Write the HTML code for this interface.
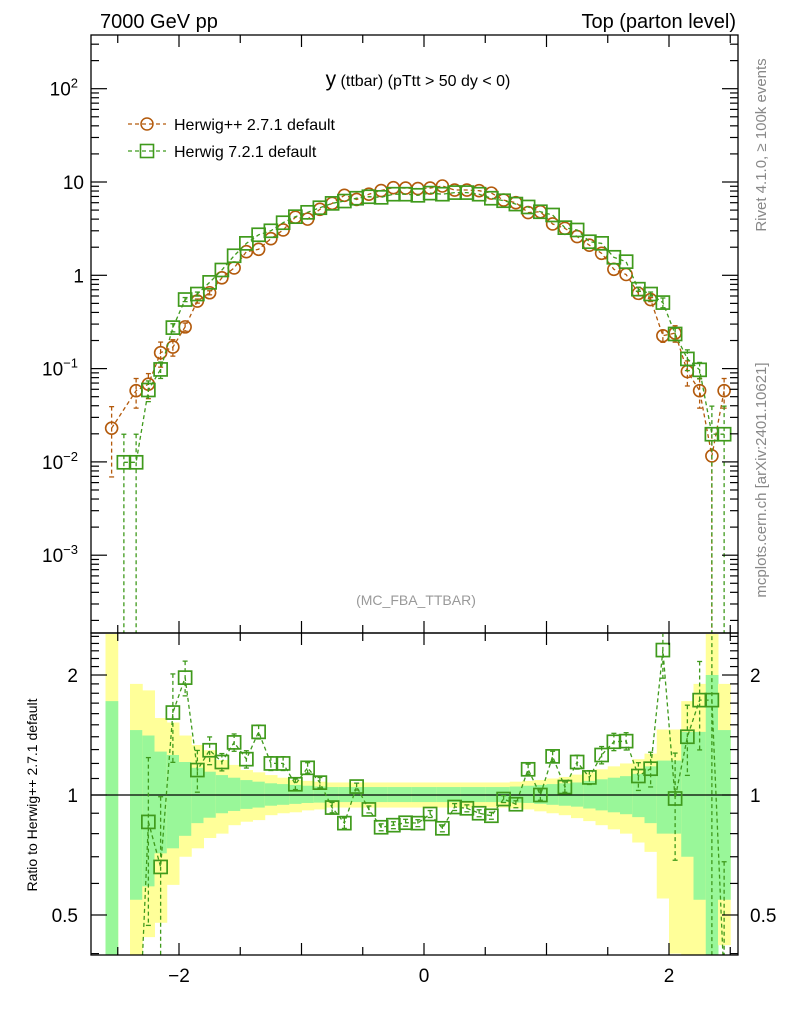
<!DOCTYPE html>
<html><head><meta charset="utf-8"><style>
html,body{margin:0;padding:0;background:#fff;overflow:hidden;width:786px;height:1024px;}
svg{display:block;font-family:"Liberation Sans",sans-serif;}
</style></head><body>
<svg id="chart" width="786" height="1024" viewBox="0 0 786 1024">
<defs>
<clipPath id="clipMain"><rect x="91" y="35" width="647" height="598"/></clipPath>
<clipPath id="clipRatio"><rect x="91" y="634" width="647" height="321"/></clipPath>
</defs>
<g id="bands" clip-path="url(#clipRatio)"></g>
<g id="ratioLines" clip-path="url(#clipRatio)"></g>
<g id="mainLines" clip-path="url(#clipMain)"></g>
<g id="axes"></g>
<text x="100" y="28" font-size="20">7000 GeV pp</text>
<text x="736" y="28" font-size="20" text-anchor="end">Top (parton level)</text>
<text x="418" y="86" text-anchor="middle" font-size="16"><tspan font-size="21">y</tspan> (ttbar) (pTtt &gt; 50 dy &lt; 0)</text>
<g>
<g>
<line x1="128" y1="124" x2="166" y2="124" stroke="#b35a0c" stroke-width="1.3" stroke-dasharray="4,3"/>
<circle cx="147" cy="124" r="6" fill="none" stroke="#b35a0c" stroke-width="1.5"/>
<text x="174" y="130" font-size="16">Herwig++ 2.7.1 default</text></g>
<g>
<line x1="128" y1="151" x2="166" y2="151" stroke="#3f9a1c" stroke-width="1.3" stroke-dasharray="4,3"/>
<rect x="140.5" y="144.5" width="13" height="13" fill="none" stroke="#3f9a1c" stroke-width="1.6"/>
<text x="174" y="157" font-size="16">Herwig 7.2.1 default</text></g>
</g>
<text x="416" y="605" text-anchor="middle" font-size="14" fill="#999">(MC_FBA_TTBAR)</text>
<text transform="translate(766,145) rotate(-90)" text-anchor="middle" font-size="15" fill="#888">Rivet 4.1.0, ≥ 100k events</text>
<text transform="translate(766,480) rotate(-90)" text-anchor="middle" font-size="15" fill="#888">mcplots.cern.ch [arXiv:2401.10621]</text>
<text transform="translate(37,795) rotate(-90)" text-anchor="middle" font-size="14">Ratio to Herwig++ 2.7.1 default</text>
</svg>
<script>
const binCenters = [-2.55,-2.45,-2.35,-2.25,-2.15,-2.05,-1.95,-1.85,-1.75,-1.65,-1.55,-1.45,-1.35,-1.25,-1.15,-1.05,-0.95,-0.85,-0.75,-0.65,-0.55,-0.45,-0.35,-0.25,-0.15,-0.05,0.05,0.15,0.25,0.35,0.45,0.55,0.65,0.75,0.85,0.95,1.05,1.15,1.25,1.35,1.45,1.55,1.65,1.75,1.85,1.95,2.05,2.15,2.25,2.35,2.45];
const herwigppValues = [0.023,null,0.058,0.068,0.148,0.17,0.28,0.53,0.65,0.94,1.2,1.79,1.9,2.47,3.06,4.2,4.0,5.1,5.9,7.2,6.5,7.4,8.1,8.7,8.6,8.5,8.6,9.06,8.2,8.2,8.07,7.6,6.4,6.0,4.7,4.8,3.55,3.19,2.6,2.1,1.72,1.16,1.02,0.64,0.55,0.225,0.24,0.093,0.058,0.0116,0.058];
const herwig7Values = [null,0.0099,0.0099,0.059,0.098,0.275,0.55,0.63,0.84,1.14,1.62,2.2,2.72,3.0,3.66,4.25,4.73,5.3,5.9,6.25,6.7,6.95,6.85,7.4,7.4,7.2,7.6,7.4,7.7,7.7,7.4,6.7,6.3,5.8,5.4,4.8,4.43,3.24,3.06,2.29,2.2,1.56,1.4,0.71,0.63,0.51,0.235,0.127,0.097,0.0198,0.0198];
const herwigppRelErr = [0.7,0,0.35,0.3,0.3,0.2,0.1,0.05,0.05,0,0,0,0,0,0,0,0,0,0,0,0,0,0,0,0,0,0,0,0,0,0,0,0,0,0,0,0,0,0,0,0,0,0,0.05,0.05,0.15,0.2,0.3,0.35,1.0,0.35];
const herwig7RelErr = [0,1.0,1.0,0.25,0.2,0.1,0.05,0.05,0,0,0,0,0,0,0,0,0,0,0,0,0,0,0,0,0,0,0,0,0,0,0,0,0,0,0,0,0,0,0,0,0,0,0,0.05,0.05,0.12,0.15,0.25,0.2,1.0,1.0];
const ratioValues = [null,null,0.17,0.856,0.66,1.61,1.97,1.155,1.295,1.21,1.355,1.23,1.44,1.2,1.2,1.064,1.17,1.074,0.93,0.85,1.05,0.92,0.83,0.84,0.852,0.85,0.896,0.825,0.933,0.926,0.9,0.887,0.977,0.948,1.16,1.0,1.25,1.047,1.21,1.107,1.26,1.36,1.365,1.116,1.164,2.31,0.98,1.4,1.73,1.73,0.34];
const ratioRelErr = [0,0,1.0,0.45,0.5,0.25,0.1,0.12,0.08,0.05,0.05,0.05,0.04,0.04,0.04,0.03,0.03,0.03,0.03,0.03,0.02,0.02,0.02,0.02,0.02,0.02,0.02,0.02,0.02,0.02,0.02,0.02,0.02,0.02,0.03,0.03,0.03,0.03,0.04,0.04,0.05,0.05,0.05,0.08,0.1,0.15,0.3,0.2,0.25,1.0,1.0];
const yellowUpper = [3,null,1.9,1.83,1.56,1.52,1.41,1.335,1.295,1.224,1.19,1.155,1.14,1.122,1.105,1.09,1.085,1.08,1.075,1.075,1.075,1.075,1.075,1.075,1.075,1.075,1.075,1.075,1.075,1.075,1.075,1.075,1.075,1.08,1.085,1.09,1.1,1.11,1.125,1.14,1.16,1.18,1.2,1.23,1.27,1.46,1.46,1.72,1.9,3,1.9];
const greenUpper = [1.72,null,1.455,1.41,1.285,1.26,1.21,1.17,1.144,1.122,1.105,1.09,1.08,1.07,1.065,1.06,1.055,1.05,1.047,1.047,1.047,1.047,1.047,1.047,1.047,1.047,1.047,1.047,1.047,1.047,1.047,1.047,1.047,1.05,1.055,1.06,1.065,1.07,1.075,1.085,1.095,1.105,1.115,1.13,1.18,1.22,1.22,1.44,1.44,2.0,1.455];
const greenLower = [0.3,null,0.546,0.59,0.714,0.735,0.79,0.85,0.877,0.9,0.912,0.923,0.93,0.94,0.945,0.95,0.955,0.957,0.96,0.96,0.96,0.96,0.96,0.96,0.96,0.96,0.96,0.96,0.96,0.96,0.96,0.96,0.96,0.957,0.955,0.95,0.945,0.94,0.935,0.925,0.915,0.905,0.895,0.88,0.85,0.8,0.8,0.7,0.546,0.3,0.546];
const yellowLower = [0.3,null,0.35,0.44,0.478,0.595,0.70,0.735,0.78,0.8,0.84,0.857,0.865,0.89,0.9,0.905,0.915,0.92,0.93,0.93,0.93,0.93,0.93,0.93,0.93,0.93,0.93,0.93,0.93,0.93,0.93,0.93,0.93,0.925,0.92,0.91,0.9,0.89,0.875,0.86,0.84,0.82,0.8,0.76,0.72,0.55,0.4,0.35,0.35,0.3,0.42];
const xTickLabels = ["−2","0","2"];
const xTickValues = [-2,0,2];
const binWidth = 0.1;

const NS = "http://www.w3.org/2000/svg";
const BROWN = "#b35a0c", GREEN = "#3f9a1c";
const X = v => 424 + 122.5 * v;
const YM = v => 275.3 - 93.3 * Math.log10(v);
const YR = v => 795 - 398.6 * Math.log10(v);
function el(tag, attrs, parent){ const e=document.createElementNS(NS,tag); for(const k in attrs) e.setAttribute(k,attrs[k]); parent.appendChild(e); return e; }
const bands=document.getElementById('bands'), rl=document.getElementById('ratioLines'), ml=document.getElementById('mainLines'), ax=document.getElementById('axes');

binCenters.forEach((c,i)=>{
  if(yellowUpper[i]==null) return;
  const x0=X(c-binWidth/2), w=122.5*binWidth+0.5;
  const y1=el('rect',{x:x0,y:YR(yellowUpper[i]),width:w,height:YR(yellowLower[i])-YR(yellowUpper[i]),fill:'#ffff99'},bands);
  
  
  const g1=el('rect',{x:x0,y:YR(greenUpper[i]),width:w,height:YR(greenLower[i])-YR(greenUpper[i]),fill:'#99f799'},bands);
  
  
});
el('line',{x1:91,x2:738,y1:YR(1),y2:YR(1),stroke:'#000','stroke-width':1.3},bands);

function series(parent, vals, errs, Y, color, shape, name, yBottom){
  let pts=[];
  vals.forEach((v,i)=>{ if(v!=null) pts.push(X(binCenters[i]).toFixed(1)+','+Y(v).toFixed(1)); });
  const pl=el('polyline',{points:pts.join(' '),fill:'none',stroke:color,'stroke-width':1.3,'stroke-dasharray':'4,3'},parent);
  
  
  vals.forEach((v,i)=>{
    if(v==null) return;
    const cx=X(binCenters[i]), cy=Y(v), e=errs[i];
    if(e>0){
      const lo = e>=1 ? yBottom : Y(v*(1-e)); const hi=Y(v*(1+e));
      el('line',{x1:cx,x2:cx,y1:hi,y2:lo,stroke:color,'stroke-width':1.3,'stroke-dasharray':'4,3'},parent);
      el('line',{x1:cx-2.5,x2:cx+2.5,y1:hi,y2:hi,stroke:color,'stroke-width':1.3},parent);
      el('line',{x1:cx-2.5,x2:cx+2.5,y1:lo,y2:lo,stroke:color,'stroke-width':1.3},parent);
    }
    let m;
    if(shape==='circle') m=el('circle',{cx:cx,cy:cy,r:6,fill:'none',stroke:color,'stroke-width':1.6},parent);
    else m=el('rect',{x:cx-6.5,y:cy-6.5,width:13,height:13,fill:'none',stroke:color,'stroke-width':1.7},parent);
    
    
  });
}
series(ml, herwigppValues, herwigppRelErr, YM, BROWN, 'circle', 'herwigpp', 640);
series(ml, herwig7Values, herwig7RelErr, YM, GREEN, 'square', 'herwig7', 640);
series(rl, ratioValues, ratioRelErr, YR, GREEN, 'square', 'ratio-herwig7', 960);

el('rect',{x:91,y:35,width:647,height:598,fill:'none',stroke:'#000','stroke-width':1.3},ax);
el('rect',{x:91,y:633,width:647,height:322,fill:'none',stroke:'#000','stroke-width':1.3},ax);
for(let v=-2.5; v<=2.5; v+=0.5){
  const x=X(v), major=Math.abs(v-Math.round(v))<1e-6, L=major?12:8;
  [[35,1],[633,-1],[633,1],[955,-1]].forEach(([y,d])=>el('line',{x1:x,x2:x,y1:y,y2:y+d*L,stroke:'#000','stroke-width':1.2},ax));
}
xTickValues.forEach((v,i)=>{ const t=el('text',{x:X(v),y:982,'text-anchor':'middle','font-size':19},ax); t.textContent=xTickLabels[i];
    });
for(let d=-4; d<=2; d++){ for(let m=1;m<10;m++){ const v=m*Math.pow(10,d), y=YM(v); if(y<35||y>633) continue;
  const L=m===1?16:8; el('line',{x1:91,x2:91+L,y1:y,y2:y,stroke:'#000','stroke-width':1.2},ax); el('line',{x1:738,x2:738-L,y1:y,y2:y,stroke:'#000','stroke-width':1.2},ax);} }
const yLabs=[[2,'10','2'],[1,'10',''],[0,'1',''],[-1,'10','−1'],[-2,'10','−2'],[-3,'10','−3']];
yLabs.forEach(([d,b,s])=>{ const t=el('text',{x:s?78:84,y:YM(Math.pow(10,d))+7,'text-anchor':'end','font-size':19},ax);
  t.textContent=b; if(s){ const ts=el('tspan',{dy:-8,'font-size':13},t); ts.textContent=s; }
    });
[0.4,0.5,0.6,0.7,0.8,0.9,1,1.1,1.2,1.3,1.4,1.5,1.6,1.7,1.8,1.9,2,2.1,2.2,2.3,2.4,2.5].forEach(v=>{ const y=YR(v); const major=(v===0.5||v===1||v===2);
  const L=major?16:8; el('line',{x1:91,x2:91+L,y1:y,y2:y,stroke:'#000','stroke-width':1.2},ax); el('line',{x1:738,x2:738-L,y1:y,y2:y,stroke:'#000','stroke-width':1.2},ax); });
[[2,'2'],[1,'1'],[0.5,'0.5']].forEach(([v,s])=>{
  const t=el('text',{x:78,y:YR(v)+7,'text-anchor':'end','font-size':19},ax); t.textContent=s;
   
  const t2=el('text',{x:750,y:YR(v)+7,'font-size':19},ax); t2.textContent=s;
    });
</script>
</body></html>
